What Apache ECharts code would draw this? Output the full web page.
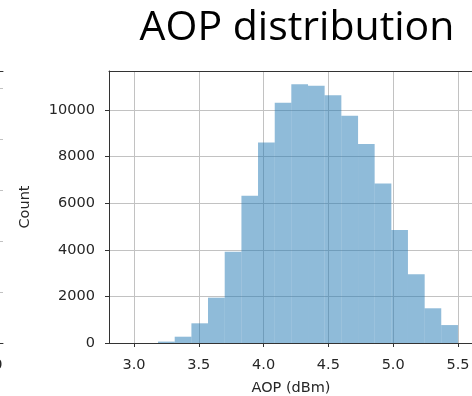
<!DOCTYPE html>
<html>
<head>
<meta charset="utf-8">
<script src="https://cdn.jsdelivr.net/npm/echarts@6/dist/echarts.min.js"></script>
<style>
  html, body { margin: 0; padding: 0; background: #fff; }
  #chart { width: 472px; height: 396px; }
</style>
</head>
<body>
<div id="chart"></div>
<script>
// histogram bins (dBm)
const binEdges = [3.185, 3.314, 3.443, 3.571, 3.700, 3.829, 3.957, 4.086, 4.214, 4.343,
  4.471, 4.600, 4.729, 4.857, 4.986, 5.114, 5.243, 5.371, 5.500]
const counts = [60, 270, 845, 1945, 3920, 6320, 8610, 10315, 11100, 11045,
  10630, 9755, 8540, 6850, 4850, 2950, 1490, 770]

const xTicks = [3.0, 3.5, 4.0, 4.5, 5.0, 5.5]
const yTicks = [0, 2000, 4000, 6000, 8000, 10000]
// neighbour panel, cut off at the left edge
const leftXTicks = [10]
const leftYTicks = [0, 1, 2, 3, 4, 5]

const bins = counts.map((c, i) => [binEdges[i], binEdges[i + 1], c])

const axisColor = '#333'
const gridColor = '#c2c2c2'
const labelFont = 'DejaVu Sans'
const labelColor = '#262626'

const chart = echarts.init(document.getElementById('chart'))
const option = {
  animation: false,
  backgroundColor: '#fff',
  title: {
    text: 'AOP distribution',
    left: 292,
    top: 3,
    textAlign: 'center',
    textStyle: {
      fontFamily: 'Open Sans',
      fontWeight: 'normal',
      fontSize: 41,
      color: '#000'
    }
  },
  grid: [
    { left: 109, right: -1, top: 71, bottom: 53, outerBoundsMode: 'none', containLabel: false },
    { left: -200, right: 469, top: 71, bottom: 53, outerBoundsMode: 'none', containLabel: false }
  ],
  xAxis: [
    {
      type: 'value',
      gridIndex: 0,
      min: 2.807,
      max: 5.616,
      name: 'AOP (dBm)',
      nameLocation: 'middle',
      nameGap: 38,
      nameTextStyle: { fontFamily: labelFont, fontSize: 14.5, color: labelColor },
      axisLine: { show: true, onZero: false, lineStyle: { color: axisColor, width: 1 } },
      axisTick: { show: true, length: 4, customValues: xTicks, lineStyle: { color: axisColor } },
      axisLabel: {
        customValues: xTicks,
        margin: 15,
        fontFamily: labelFont,
        fontSize: 14.5,
        color: labelColor,
        formatter: v => v.toFixed(1)
      },
      splitLine: { show: true, lineStyle: { color: gridColor, width: 1 } }
    },
    {
      type: 'value',
      gridIndex: 0,
      position: 'top',
      min: 2.807,
      max: 5.616,
      axisLine: { show: true, onZero: false, lineStyle: { color: axisColor, width: 1 } },
      axisTick: { show: false },
      axisLabel: { show: false },
      splitLine: { show: false }
    },
    {
      type: 'value',
      gridIndex: 1,
      min: 0,
      max: 10.5,
      axisLine: { show: true, onZero: false, lineStyle: { color: axisColor, width: 1 } },
      axisTick: { show: true, length: 4, customValues: leftXTicks, lineStyle: { color: axisColor } },
      axisLabel: {
        customValues: leftXTicks,
        margin: 15,
        fontFamily: labelFont,
        fontSize: 14.5,
        color: labelColor
      },
      splitLine: { show: false }
    },
    {
      type: 'value',
      gridIndex: 1,
      position: 'top',
      min: 0,
      max: 10.5,
      axisLine: { show: true, onZero: false, lineStyle: { color: axisColor, width: 1 } },
      axisTick: { show: false },
      axisLabel: { show: false },
      splitLine: { show: false }
    }
  ],
  yAxis: [
    {
      type: 'value',
      gridIndex: 0,
      min: 0,
      max: 11674,
      name: 'Count',
      nameLocation: 'middle',
      nameGap: 76,
      nameTextStyle: { fontFamily: labelFont, fontSize: 14.5, color: labelColor },
      axisLine: { show: true, lineStyle: { color: axisColor, width: 1 } },
      axisTick: { show: true, length: 4, customValues: yTicks, lineStyle: { color: axisColor } },
      axisLabel: {
        customValues: yTicks,
        margin: 14,
        fontFamily: labelFont,
        fontSize: 14.5,
        color: labelColor,
        formatter: v => String(v)
      },
      splitLine: { show: true, lineStyle: { color: gridColor, width: 1 } }
    },
    {
      type: 'value',
      gridIndex: 1,
      position: 'right',
      min: 0,
      max: 5.333,
      axisLine: { show: true, lineStyle: { color: axisColor, width: 1 } },
      axisTick: { show: false, customValues: leftYTicks },
      axisLabel: { show: false, customValues: leftYTicks },
      splitLine: { show: true, lineStyle: { color: gridColor, width: 1 } }
    }
  ],
  series: [
    {
      type: 'custom',
      xAxisIndex: 0,
      yAxisIndex: 0,
      data: bins,
      encode: { x: [0, 1], y: 2 },
      renderItem: (params, api) => {
        const p0 = api.coord([api.value(0), api.value(2)])
        const p1 = api.coord([api.value(1), 0])
        return {
          type: 'rect',
          shape: { x: p0[0], y: p0[1], width: p1[0] - p0[0], height: p1[1] - p0[1] },
          style: { fill: 'rgba(31,119,180,0.5)' }
        }
      }
    }
  ]
}

chart.setOption(option)
window.addEventListener('resize', () => {
  chart.resize()
})
</script>
</body>
</html>
